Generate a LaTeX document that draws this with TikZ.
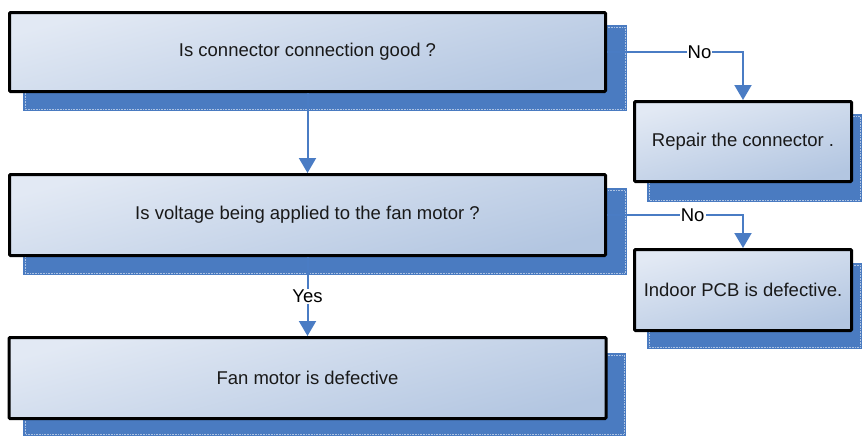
\documentclass[tikz,border=0pt]{standalone}
\usepackage{fontspec}
\setmainfont{Liberation Sans}
\usetikzlibrary{arrows.meta}
\definecolor{shblue}{HTML}{4A7BC1}
\definecolor{lineblue}{HTML}{4A7CC4}
\definecolor{boxlight}{HTML}{E2E9F4}
\definecolor{boxdark}{HTML}{B3C6E1}
\tikzset{
  flowbox/.style={draw=black, line width=3pt, rounded corners=1pt, top color=boxlight, bottom color=boxdark, shading angle=15, inner sep=0pt, font=\fontsize{18.5}{21}\selectfont, text=black!90},
  shadowline/.style={draw=white, line width=0.6pt, opacity=0.55, densely dotted},
  conn/.style={draw=lineblue, line width=2pt, -{Triangle[width=17pt,length=15pt]}},
  lbl/.style={fill=white, inner sep=1pt, font=\fontsize{18.5}{21}\selectfont, text=black}
}
\begin{document}
\begin{tikzpicture}[x=1pt,y=-1pt]
\useasboundingbox (0,0) rectangle (862,437);
% shadows
\fill[shblue] (23,25) rectangle (627,111);
\draw[shadowline] (25,27) rectangle (625,109);
\fill[shblue] (23,188) rectangle (627,275);
\draw[shadowline] (25,190) rectangle (625,273);
\fill[shblue] (23,353) rectangle (626,436);
\draw[shadowline] (25,355) rectangle (624,434);
\fill[shblue] (647,114) rectangle (862,202);
\draw[shadowline] (649,116) rectangle (860,200);
\fill[shblue] (647,263) rectangle (862,349);
\draw[shadowline] (649,265) rectangle (860,347);
% boxes
\node[flowbox, minimum width=596pt, minimum height=79pt] (b1) at (307.5,52) {Is connector connection good ?};
\node[flowbox, minimum width=596pt, minimum height=81pt] (b2) at (307.5,215) {Is voltage being applied to the fan motor ?};
\node[flowbox, minimum width=597pt, minimum height=81pt] (b3) at (307.5,378) {Fan motor is defective};
\node[flowbox, minimum width=217pt, minimum height=80pt] (r) at (743,141.5) {Repair the connector .};
\node[flowbox, minimum width=217pt, minimum height=81pt] (p) at (743,290) {Indoor PCB is defective.};
% connectors
\draw[conn] (b1.south) -- (b2.north);
\draw[conn] (b2.south) -- node[lbl]{Yes} (b3.north);
\coordinate (c1) at (b1.east -| r.north);
\coordinate (c2) at (b2.east -| p.north);
\draw[conn] (b1.east) -- node[lbl,pos=0.68]{No} (c1) -- (r.north);
\draw[conn] (b2.east) -- node[lbl,pos=0.63]{No} (c2) -- (p.north);
\end{tikzpicture}
\end{document}
